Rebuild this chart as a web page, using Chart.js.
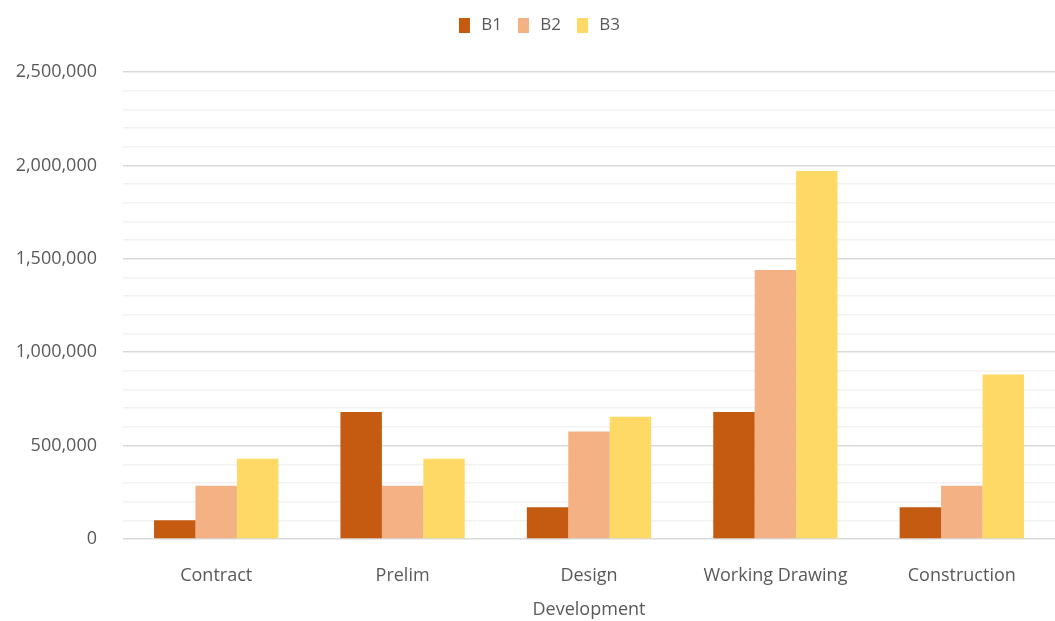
<!DOCTYPE html>
<html>
<head>
<meta charset="utf-8">
<script src="https://cdn.jsdelivr.net/npm/chart.js@4/dist/chart.umd.min.js"></script>
<style>
  html, body { margin: 0; padding: 0; background: #fff; }
  .wrap { width: 1055px; height: 621px; }
</style>
</head>
<body>
<div class="wrap"><canvas id="chart"></canvas></div>
<script>
const categories = ['Contract', 'Prelim', ['Design', 'Development'], 'Working Drawing', 'Construction']
const b1 = [100000, 680000, 170000, 680000, 170000]
const b2 = [285000, 285000, 575000, 1440000, 285000]
const b3 = [430000, 430000, 655000, 1970000, 880000]
const seriesNames = ['B1', 'B2', 'B3']
const seriesColors = ['#C55A11', '#F4B183', '#FFD966']

const textColor = '#595959'
const font = { family: 'Open Sans', size: 18 }

// legend sits higher than the plot and a bit right of centre
const legendGap = {
	id: 'legendGap',
	beforeInit(chart) {
		const fit = chart.legend.fit
		chart.legend.fit = function () {
			fit.bind(chart.legend)()
			this.height = 71
		}
	},
	afterLayout(chart) {
		chart.legend.left += 12
		chart.legend.right += 12
	}
}

const ctx = document.getElementById('chart').getContext('2d')
new Chart(ctx, {
	type: 'bar',
	data: {
		labels: categories,
		datasets: [b1, b2, b3].map((d, i) => ({
			label: seriesNames[i],
			data: d,
			backgroundColor: seriesColors[i],
			borderWidth: 0,
			barPercentage: 1,
			categoryPercentage: 0.667
		}))
	},
	options: {
		responsive: true,
		maintainAspectRatio: false,
		animation: false,
		layout: { padding: { top: 1, right: 0, bottom: 0, left: 0 } },
		plugins: {
			legend: {
				position: 'top',
				align: 'center',
				labels: {
					color: textColor,
					font: { family: 'Open Sans', size: 17 },
					boxWidth: 11,
					boxHeight: 15,
					padding: 16,
					generateLabels: chart => Chart.defaults.plugins.legend.labels.generateLabels(chart)
						.map(l => Object.assign(l, { text: '\u2009' + l.text }))
				}
			},
			tooltip: { enabled: false }
		},
		scales: {
			x: {
				grid: { display: false },
				border: { display: false },
				afterFit: s => { s.height = 82 },
				ticks: {
					color: textColor,
					font: { family: 'Open Sans', size: 18, lineHeight: 1.9 },
					padding: 12,
					maxRotation: 0
				}
			},
			y: {
				min: 0,
				max: 2500000,
				border: { display: false },
				afterFit: s => { s.width = 123 },
				grid: {
					drawTicks: false,
					color: c => (c.tick.value % 500000 === 0 ? '#d9d9d9' : '#f2f2f2'),
					lineWidth: 1.5
				},
				ticks: {
					stepSize: 100000,
					autoSkip: false,
					color: textColor,
					font: font,
					padding: 26,
					callback: v => (v % 500000 === 0 ? v.toLocaleString('en-US') : '')
				}
			}
		}
	},
	plugins: [legendGap]
})
</script>
</body>
</html>
